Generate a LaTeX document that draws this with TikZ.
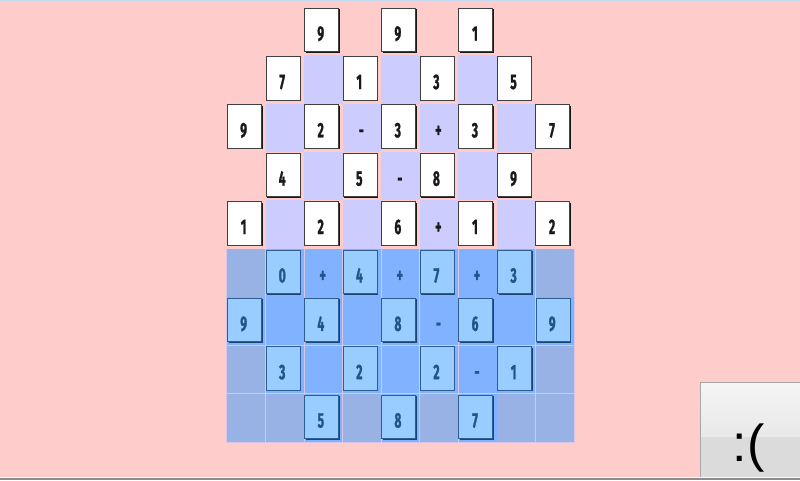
\documentclass[tikz,border=0pt]{standalone}
\usepackage{fontspec}
\setmainfont{Fira Sans}
\newfontfamily\digitfont[FakeStretch=0.57, FakeBold=1.2]{Fira Sans}
\newfontfamily\btnfont{Liberation Sans}
\usetikzlibrary{shadows}
\definecolor{bgpink}{HTML}{FFCCCC}
\definecolor{lav}{HTML}{CCCCFF}
\definecolor{bluecell}{HTML}{80B2FF}
\definecolor{greyblue}{HTML}{99B2E5}
\definecolor{gridline}{HTML}{D8C6E6}
\definecolor{tileblue}{HTML}{99CCFF}
\definecolor{tileedge}{HTML}{2E5E90}
\definecolor{tileshadow}{HTML}{1E4470}
\definecolor{bluetext}{HTML}{22548A}
\definecolor{topline}{HTML}{C4DAF0}
\definecolor{btnedge}{HTML}{A8A8A8}
\tikzset{
  tilebase/.style={rectangle, inner sep=0pt, line width=1pt, minimum width=34pt, minimum height=43.5pt},
  whitetile/.style={tilebase, fill=white, draw=black!75,
    general shadow={fill=black!90, shadow xshift=1pt, shadow yshift=-1pt}},
  bluetile/.style={tilebase, fill=tileblue, draw=tileedge,
    general shadow={fill=tileshadow, shadow xshift=1pt, shadow yshift=-1pt}},
  digit/.style={inner sep=0pt, anchor=base, font=\digitfont\bfseries\fontsize{21}{21}\selectfont},
  blackdigit/.style={digit, text=black!90},
  bluedigit/.style={digit, text=bluetext},
  btntext/.style={inner sep=0pt, anchor=base, font=\btnfont\fontsize{52}{52}\selectfont, text=black},
}
\begin{document}
\begin{tikzpicture}[x=1pt,y=-1pt]
\useasboundingbox (0,0) rectangle (800,480);
% background
\fill[bgpink] (0,0) rectangle (800,480);
\fill[topline] (0,0) rectangle (800,1.4);
\fill[black!45] (0,477.6) rectangle (800,480);
\fill[white!80!bgpink] (0,476.8) rectangle (800,477.6);
% lavender cells
\foreach \c/\r in {2/1,4/1,6/1,1/2,3/2,5/2,7/2,2/3,4/3,6/3,1/4,3/4,5/4,7/4}{
  \fill[lav] ({227+\c*38.56},{7+\r*48.33}) rectangle ({227+(\c+1)*38.56},{7+(\r+1)*48.33});
}
% blue region base (grid lines)
\fill[gridline] (226.3,{7+5*48.33}) rectangle (574.7,442.6);
\foreach \c/\r/\col in {
  0/5/greyblue,1/5/bluecell,2/5/bluecell,3/5/bluecell,4/5/bluecell,5/5/bluecell,6/5/bluecell,7/5/bluecell,8/5/greyblue,
  0/6/bluecell,1/6/bluecell,2/6/bluecell,3/6/bluecell,4/6/bluecell,5/6/bluecell,6/6/bluecell,7/6/bluecell,8/6/bluecell,
  0/7/greyblue,1/7/bluecell,2/7/bluecell,3/7/bluecell,4/7/bluecell,5/7/bluecell,6/7/bluecell,7/7/bluecell,8/7/greyblue,
  0/8/greyblue,1/8/greyblue,2/8/bluecell,3/8/greyblue,4/8/bluecell,5/8/greyblue,6/8/bluecell,7/8/greyblue,8/8/greyblue}{
  \fill[\col] ({227+\c*38.56+0.4},{7+\r*48.33+0.5}) rectangle ({227+(\c+1)*38.56-0.4},{7+(\r+1)*48.33-0.4});
}
% white tiles
\foreach \c/\r/\t in {2/0/9,4/0/9,6/0/1,
  1/1/7,3/1/1,5/1/3,7/1/5,
  0/2/9,2/2/2,4/2/3,6/2/3,8/2/7,
  1/3/4,3/3/5,5/3/8,7/3/9,
  0/4/1,2/4/2,4/4/6,6/4/1,8/4/2}{
  \node[whitetile] (t\c-\r) at ({227+\c*38.56+17.5},{7+\r*48.33+23}) {};
  \node[blackdigit] (d\c-\r) at ({227+\c*38.56+16.6},{7+\r*48.33+33.7}) {\t};
}
% operators in the lavender area
\foreach \c/\r/\t in {3/2/-,5/2/+,4/3/-,5/4/+}{
  \node[blackdigit] (o\c-\r) at ({227+\c*38.56+18.6},{7+\r*48.33+33.7}) {\t};
}
% blue tiles
\foreach \c/\r/\t in {1/5/0,3/5/4,5/5/7,7/5/3,
  0/6/9,2/6/4,4/6/8,6/6/6,8/6/9,
  1/7/3,3/7/2,5/7/2,7/7/1,
  2/8/5,4/8/8,6/8/7}{
  \node[bluetile] (t\c-\r) at ({227+\c*38.56+17.6},{7+\r*48.33+23.2}) {};
  \node[bluedigit] (d\c-\r) at ({227+\c*38.56+16.7},{7+\r*48.33+33.9}) {\t};
}
% operators in the blue area
\foreach \c/\r/\t in {2/5/+,4/5/+,6/5/+,5/6/-,6/7/-}{
  \node[bluedigit] (o\c-\r) at ({227+\c*38.56+18.6},{7+\r*48.33+33.7}) {\t};
}
% button
\shade[top color=white!96!black, bottom color=white!91!black] (700.5,382) rectangle (800,437);
\fill[white!86!black] (700.5,437) rectangle (800,476.8);
\draw[btnedge, line width=0.8pt] (700.5,476.8) -- (700.5,382) -- (800,382);
\node[btntext] (sad) at (748.5,461) {:(};
\end{tikzpicture}
\end{document}
